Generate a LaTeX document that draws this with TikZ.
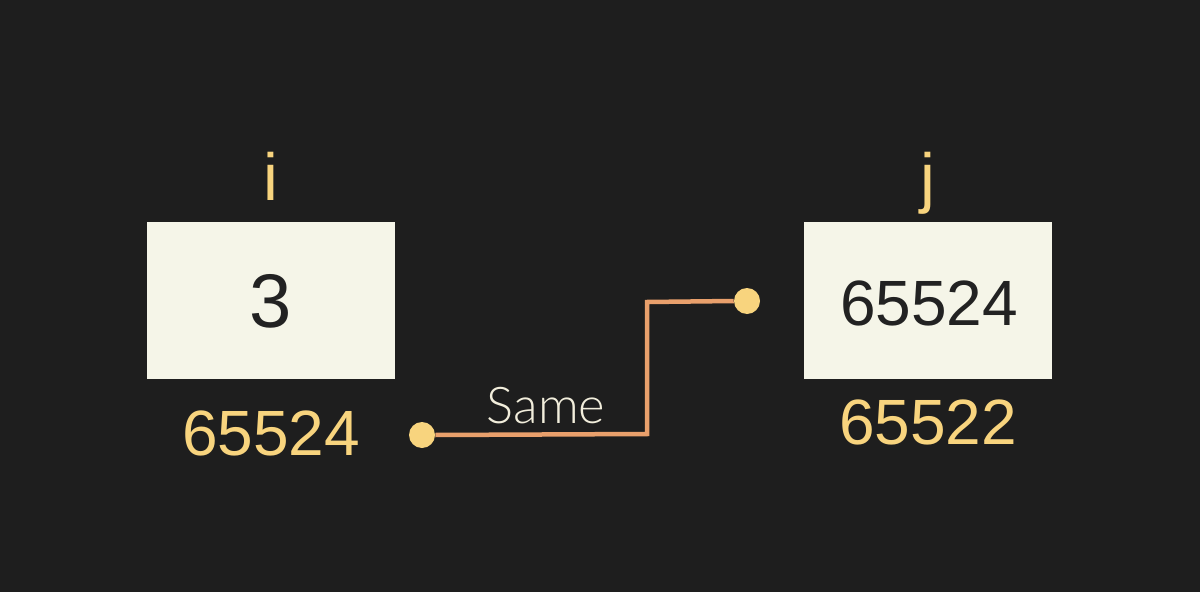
\documentclass[tikz,border=0pt]{standalone}
\usepackage{fontspec}
\setmainfont{Liberation Sans}
\newfontfamily\thinfont{Lato Light}
\definecolor{bg}{HTML}{1E1E1E}
\definecolor{boxfill}{HTML}{F5F5E8}
\definecolor{lbl}{HTML}{F8D47E}
\definecolor{wire}{HTML}{E9A06C}
\definecolor{ink}{HTML}{222222}
\definecolor{samecol}{HTML}{F2EEDC}
\tikzset{
  cell/.style={fill=boxfill, draw=none, minimum width=248*0.75pt, minimum height=157*0.75pt, inner sep=0pt},
  lab/.style={text=lbl, inner sep=0pt},
  dot/.style={circle, fill=lbl, minimum size=26*0.75pt, inner sep=0pt},
  wirestyle/.style={draw=wire, line width=4.5*0.75pt}
}
\begin{document}
\begin{tikzpicture}[x=0.75pt,y=-0.75pt]
\fill[bg] (0,0) rectangle (1200,592);
\useasboundingbox (0,0) rectangle (1200,592);
\node[cell] (bi) at (271,300.5) {};
\node[cell] (bj) at (928,300.5) {};
\node[text=ink, inner sep=0pt, anchor=base, font=\fontsize{57}{60}\selectfont] (vi) at (271,327) {3};
\node[text=ink, inner sep=0pt, anchor=base, font=\fontsize{48}{52}\selectfont] (vj) at (929,325) {65524};
\node[lab, anchor=base, font=\fontsize{50}{54}\selectfont] (ni) at (271,200) {i};
\node[lab, anchor=base, font=\fontsize{50}{54}\selectfont] (nj) at (928,200) {j};
\node[lab, anchor=base, font=\fontsize{48}{52}\selectfont] (ai) at (271,455) {65524};
\node[lab, anchor=base, font=\fontsize{48}{52}\selectfont] (aj) at (928,444) {65522};
\node[dot] (d1) at (422,435) {};
\node[dot] (d2) at (747,301) {};
\coordinate (c1) at (647,434);
\coordinate (c2) at (647,302);
\draw[wirestyle] (d1.east) -- (c1) -- (c2) -- (d2.west);
\node[text=samecol, inner sep=0pt, anchor=base, font=\thinfont\fontsize{38}{40}\selectfont] (same) at (546,423) {Same};
\end{tikzpicture}
\end{document}
